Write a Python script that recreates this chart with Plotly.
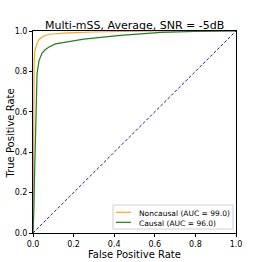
import plotly.graph_objects as go

title = "Multi-mSS, Average, SNR = -5dB"
nc_name = "Noncausal (AUC = 99.0)"
c_name = "Causal (AUC = 96.0)"
x_title = "False Positive Rate"
y_title = "True Positive Rate"

nc_fpr = [0, 0.002, 0.004, 0.006, 0.01, 0.02, 0.03, 0.05, 0.08, 0.12, 0.175, 0.3, 0.45, 0.6, 0.8, 1.0]
nc_tpr = [0, 0.4, 0.75, 0.86, 0.905, 0.94, 0.958, 0.974, 0.984, 0.988, 0.991, 0.995, 0.998, 1.0, 1.0, 1.0]

c_fpr = [0, 0.004, 0.008, 0.012, 0.016, 0.02, 0.03, 0.044, 0.06, 0.077, 0.11, 0.175, 0.25, 0.43, 0.63, 0.8, 1.0]
c_tpr = [0, 0.1, 0.3, 0.5, 0.68, 0.79, 0.855, 0.89, 0.907, 0.92, 0.936, 0.948, 0.96, 0.978, 0.993, 0.998, 1.0]

diag = [0, 1]
ticks = [0.0, 0.2, 0.4, 0.6, 0.8, 1.0]
tick_text = ["0.0", "0.2", "0.4", "0.6", "0.8", "1.0"]

ORANGE = "#ffa31a"
GREEN = "#1f7f1f"
FONT = "DejaVu Sans"

W, H = 262, 262
L, R, T, B = 33, 26, 31, 29
PW, PH = W - L - R, H - T - B


def px(xp):
    return (xp - L) / PW


def py(yp):
    return (H - B - yp) / PH


fig = go.Figure()
fig.add_trace(go.Scatter(x=nc_fpr, y=nc_tpr, mode="lines", name=nc_name, showlegend=False,
                         line=dict(color=ORANGE, width=1.2)))
fig.add_trace(go.Scatter(x=c_fpr, y=c_tpr, mode="lines", name=c_name, showlegend=False,
                         line=dict(color=GREEN, width=1.2)))
fig.add_trace(go.Scatter(x=diag, y=diag, mode="lines", showlegend=False,
                         line=dict(color="#1a1ab0", width=1, dash="3px,2px")))

axis_common = dict(range=[0, 1], tickvals=ticks, ticktext=tick_text,
                   showgrid=False, zeroline=False, showline=True, mirror=True,
                   linecolor="black", linewidth=1, ticks="outside", ticklen=3,
                   tickcolor="black", automargin=False,
                   tickfont=dict(size=8, color="black", family=FONT))

shapes = [
    # legend box
    dict(type="rect", xref="paper", yref="paper", x0=px(113), x1=px(233), y0=py(229), y1=py(205),
         line=dict(color="#d0d0d0", width=1), fillcolor="white", layer="above"),
    dict(type="line", xref="paper", yref="paper", x0=px(116), x1=px(131), y0=py(212.3), y1=py(212.3),
         line=dict(color=ORANGE, width=1.2), layer="above"),
    dict(type="line", xref="paper", yref="paper", x0=px(116), x1=px(131), y0=py(222.3), y1=py(222.3),
         line=dict(color=GREEN, width=1.2), layer="above"),
]

annotations = [
    dict(text=nc_name, xref="paper", yref="paper", x=px(136.5), y=py(213.3), xanchor="left",
         yanchor="middle", showarrow=False, font=dict(size=7.5, color="black", family=FONT)),
    dict(text=c_name, xref="paper", yref="paper", x=px(136.5), y=py(223.3), xanchor="left",
         yanchor="middle", showarrow=False, font=dict(size=7.5, color="black", family=FONT)),
    dict(text=x_title, xref="paper", yref="paper", x=0.5, y=py(254.5), xanchor="center",
         yanchor="middle", showarrow=False, font=dict(size=10, color="black", family=FONT)),
    dict(text=y_title, xref="paper", yref="paper", x=px(9.5), y=py(134), xanchor="center",
         yanchor="middle", textangle=-90, showarrow=False,
         font=dict(size=10, color="black", family=FONT)),
    dict(text=title, xref="paper", yref="paper", x=px(134), y=py(25.5), xanchor="center",
         yanchor="middle", showarrow=False, font=dict(size=11, color="black", family=FONT)),
]

fig.update_layout(
    width=W, height=H,
    margin=dict(l=L, r=R, t=T, b=B),
    paper_bgcolor="white", plot_bgcolor="white",
    xaxis=axis_common,
    yaxis=axis_common,
    shapes=shapes,
    annotations=annotations,
    showlegend=False,
)

fig.write_html("out.html", config={"displayModeBar": False},
               post_script="document.body.style.margin='0px';document.body.style.overflow='hidden';")
